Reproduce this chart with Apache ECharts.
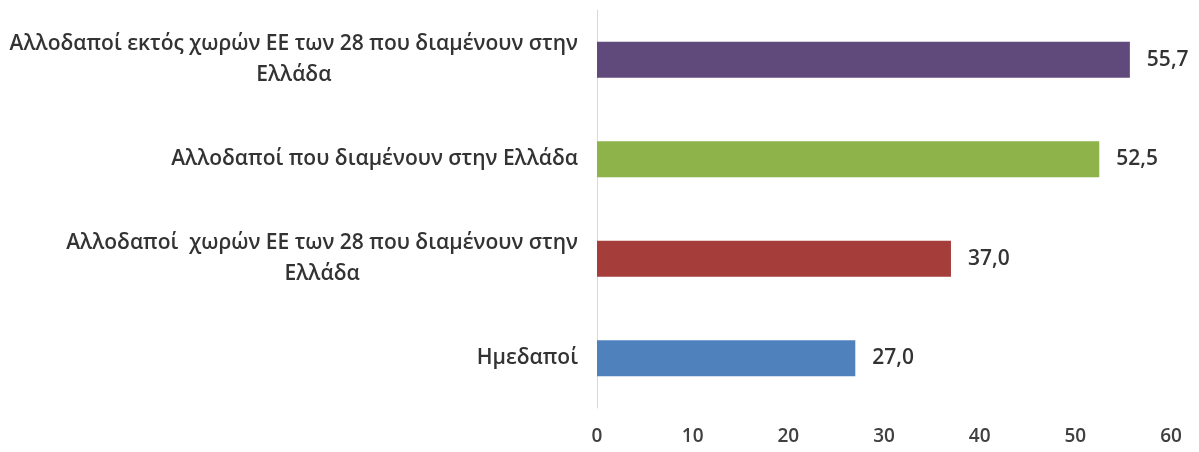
<!DOCTYPE html>
<html>
<head>
<meta charset="utf-8">
<script src="https://cdn.jsdelivr.net/npm/echarts@6/dist/echarts.min.js"></script>
<style>html,body{margin:0;padding:0;background:#fff}#c{width:1199px;height:452px}</style>
</head>
<body>
<div id="c"></div>
<script>
var categories = [
  'Ημεδαποί',
  'Αλλοδαποί  χωρών ΕΕ των 28 που διαμένουν στην\nΕλλάδα',
  'Αλλοδαποί που διαμένουν στην Ελλάδα',
  'Αλλοδαποί εκτός χωρών ΕΕ των 28 που διαμένουν στην\nΕλλάδα'
];
var values = [27.0, 37.0, 52.5, 55.7];
var colors = ['#4f81bd', '#a53e3b', '#8db34a', '#604a7b'];
var xTicks = [0, 10, 20, 30, 40, 50, 60];

var chart = echarts.init(document.getElementById('c'));
chart.setOption({
  animation: false,
  grid: { left: 597, right: 28, top: 10, bottom: 44, containLabel: false },
  xAxis: {
    type: 'value', min: xTicks[0], max: xTicks[xTicks.length - 1], interval: 10,
    axisLine: { show: false }, axisTick: { show: false }, splitLine: { show: false },
    axisLabel: { margin: 19, color: '#404040', fontFamily: 'Open Sans', fontSize: 19, fontWeight: 600 }
  },
  yAxis: {
    type: 'category', data: categories,
    axisLine: { show: true, lineStyle: { color: '#d9d9d9', width: 1 } },
    axisTick: { show: false },
    axisLabel: {
      margin: 19,
      formatter: function (v) { return '{c|' + v + '}'; },
      rich: { c: { align: 'center', color: '#333333', fontFamily: 'Open Sans', fontSize: 21, fontWeight: 600, lineHeight: 31 } }
    }
  },
  series: [{
    type: 'bar',
    data: values.map(function (v, i) { return { value: v, itemStyle: { color: colors[i] } }; }),
    barCategoryGap: '64%',
    label: {
      show: true, position: 'right', distance: 17,
      color: '#333333', fontFamily: 'Open Sans', fontSize: 21, fontWeight: 600,
      formatter: function (p) { return p.value.toFixed(1).replace('.', ','); }
    }
  }]
});
</script>
</body>
</html>
